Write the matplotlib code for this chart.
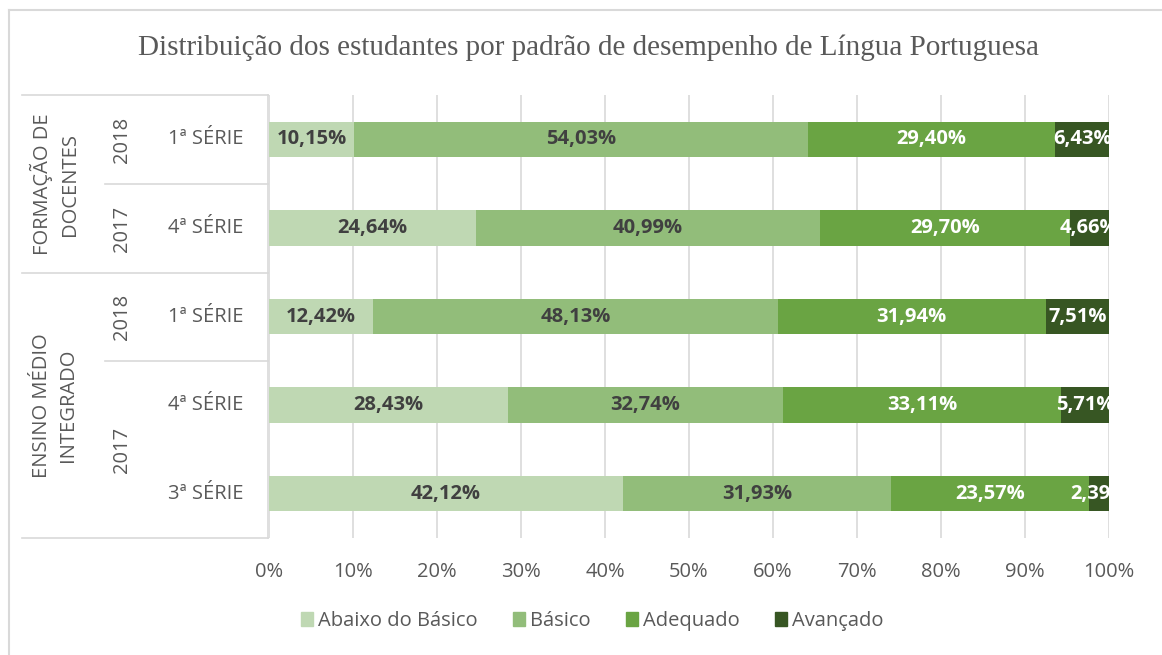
import matplotlib
matplotlib.use("Agg")
import matplotlib.pyplot as plt
from matplotlib.lines import Line2D
from matplotlib.patches import Rectangle
import numpy as np

# ---- data ----
series_names = ["Abaixo do Básico", "Básico", "Adequado", "Avançado"]
series_colors = ["#BFD8B3", "#92BD7A", "#6AA443", "#375623"]
label_colors = ["#404040", "#404040", "white", "white"]
serie_labels = ["1ª SÉRIE", "4ª SÉRIE", "1ª SÉRIE", "4ª SÉRIE", "3ª SÉRIE"]
abaixo = [10.15, 24.64, 12.42, 28.43, 42.12]
basico = [54.03, 40.99, 48.13, 32.74, 31.93]
adequado = [29.40, 29.70, 31.94, 33.11, 23.57]
avancado = [6.43, 4.66, 7.51, 5.71, 2.39]
year_labels = ["2018", "2017", "2018", "2017"]
group_labels = ["FORMAÇÃO DE\nDOCENTES", "ENSINO MÉDIO\nINTEGRADO"]
x_ticks = [0, 10, 20, 30, 40, 50, 60, 70, 80, 90, 100]
title = "Distribuição dos estudantes por padrão de desempenho de Língua Portuguesa"

W, H = 1162, 655
fig = plt.figure(figsize=(W / 100, H / 100), dpi=100)
fig.patch.set_facecolor("white")

def fx(px):
    return px / W

def fy(py):
    return 1 - py / H

ax_left, ax_right, ax_top, ax_bot = 269, 1109, 95, 538
ax = fig.add_axes([fx(ax_left), fy(ax_bot), fx(ax_right - ax_left), (ax_bot - ax_top) / H])

font = "Open Sans"
gray = "#595959"
fs = 14.5

n = len(serie_labels)
ypos = np.arange(n)
data = [abaixo, basico, adequado, avancado]
left = np.zeros(n)
for vals, col, lcol, name in zip(data, series_colors, label_colors, series_names):
    vals = np.array(vals)
    ax.barh(ypos, vals, left=left, height=0.4, color=col, label=name, zorder=3)
    for yi, (l, v) in enumerate(zip(left, vals)):
        ax.text(l + v / 2, yi, f"{v:.2f}%".replace(".", ","), ha="center", va="center",
                color=lcol, fontsize=14.5, fontweight="bold", family=font,
                clip_on=True, zorder=4)
    left = left + vals

ax.set_xlim(0, 100)
ax.set_ylim(n - 0.5, -0.5)
ax.set_xticks(x_ticks)
ax.set_xticklabels([f"{t}%" for t in x_ticks], family=font, fontsize=fs, color=gray)
ax.set_yticks([])
ax.tick_params(axis="x", length=0, pad=17)
ax.grid(axis="x", color="#D9D9D9", linewidth=1.2, zorder=0)
for s in ax.spines.values():
    s.set_visible(False)

# category table lines
lc = "#D9D9D9"
def hline(x0, x1, y):
    fig.add_artist(Line2D([fx(x0), fx(x1)], [fy(y), fy(y)], color=lc, lw=1.2))
def vline(x, y0, y1):
    fig.add_artist(Line2D([fx(x), fx(x)], [fy(y0), fy(y1)], color=lc, lw=1.2))

hline(22, 268, 95)
hline(22, 268, 273)
hline(22, 268, 538)
hline(105, 268, 184)
hline(105, 268, 361)
vline(268, 95, 538)

# serie labels
row_h = (ax_bot - ax_top) / n
for i, lab in enumerate(serie_labels):
    yc = ax_top + row_h * (i + 0.5)
    fig.text(fx(206), fy(yc), lab, ha="center", va="center", family=font, fontsize=fs, color=gray)

# year labels
year_spans = [(95, 184), (184, 273), (273, 361), (361, 538)]
for lab, (a, b) in zip(year_labels, year_spans):
    fig.text(fx(122), fy((a + b) / 2), lab, ha="center", va="center", rotation=90,
             family=font, fontsize=fs, color=gray)

# group labels
group_spans = [(95, 273), (273, 538)]
for lab, (a, b) in zip(group_labels, group_spans):
    fig.text(fx(55), fy((a + b) / 2), lab, ha="center", va="center", rotation=90,
             family=font, fontsize=fs, color=gray, linespacing=1.45, multialignment="center")

# title
fig.text(fx(588), fy(48), title, ha="center", va="center", family="Liberation Serif",
         fontsize=21, color=gray)

# legend
handles = [Rectangle((0, 0), 1, 1, color=c) for c in series_colors]
leg = fig.legend(handles, series_names, loc="center", bbox_to_anchor=(fx(592), fy(621)),
                 ncol=4, frameon=False, prop={"family": font, "size": fs},
                 handlelength=0.6, handleheight=0.75, handletextpad=0.25, columnspacing=1.75)
for t in leg.get_texts():
    t.set_color(gray)

# outer border
fig.add_artist(Line2D([fx(9), fx(9)], [fy(10), 0], color="#D9D9D9", lw=1.5))
fig.add_artist(Line2D([fx(9), 1], [fy(10), fy(10)], color="#D9D9D9", lw=1.5))

fig.savefig("out.png", dpi=100, facecolor="white")
